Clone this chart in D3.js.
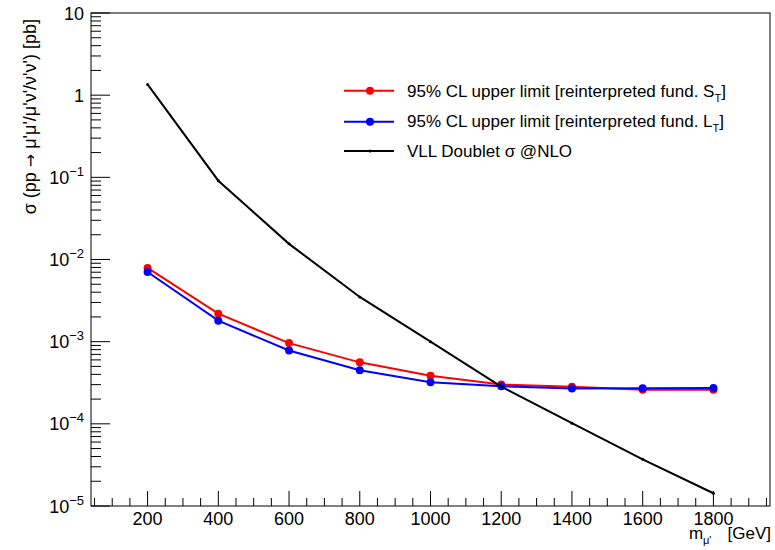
<!DOCTYPE html>
<html>
<head>
<meta charset="utf-8">
<script src="https://cdn.jsdelivr.net/npm/d3@7"></script>
<style>
  html, body { margin: 0; padding: 0; background: #fff; }
  svg { display: block; font-family: "Liberation Sans", Arial, Helvetica, sans-serif; }
</style>
</head>
<body>
<svg id="chart" width="775" height="550"></svg>
<script>
// ---- data ----
const masses = [200, 400, 600, 800, 1000, 1200, 1400, 1600, 1800];
const limitST = [7.9e-3, 2.19e-3, 9.6e-4, 5.6e-4, 3.84e-4, 3.02e-4, 2.82e-4, 2.6e-4, 2.6e-4];
const limitLT = [7.05e-3, 1.8e-3, 7.8e-4, 4.5e-4, 3.2e-4, 2.86e-4, 2.7e-4, 2.71e-4, 2.73e-4];
const xsecNLO = [1.35, 0.091, 0.0155, 3.5e-3, 1.0e-3, 2.84e-4, 1.02e-4, 3.7e-5, 1.43e-5];
const xTickValues = [200, 400, 600, 800, 1000, 1200, 1400, 1600, 1800];
const yTickExponents = [-5, -4, -3, -2, -1, 0, 1];
const legendLabels = [
  {main: "95% CL upper limit [reinterpreted fund. S", sub: "T", tail: "]"},
  {main: "95% CL upper limit [reinterpreted fund. L", sub: "T", tail: "]"},
  {main: "VLL Doublet \u03C3 @NLO", sub: "", tail: ""}
];

const svg = d3.select("#chart");
const L = 91, R = 770, T = 13, B = 506;

const x = d3.scaleLinear().domain([40, 1960]).range([L, R]);
const y = d3.scaleLog().domain([1e-5, 10]).range([B, T]);

// frame
svg.append("rect").attr("x", L).attr("y", T).attr("width", R - L).attr("height", B - T)
  .attr("fill", "none").attr("stroke", "#000").attr("stroke-width", 1);

// x ticks
const xMinor = d3.range(50, 1960, 50).filter(v => !xTickValues.includes(v));
const gx = svg.append("g");
gx.selectAll("line.minor").data(xMinor).join("line")
  .attr("x1", d => x(d)).attr("x2", d => x(d)).attr("y1", B).attr("y2", B - 8)
  .attr("stroke", "#000").attr("stroke-width", 1);
gx.selectAll("line.major").data(xTickValues).join("line")
  .attr("x1", d => x(d)).attr("x2", d => x(d)).attr("y1", B).attr("y2", B - 15)
  .attr("stroke", "#000").attr("stroke-width", 1);
gx.selectAll("text").data(xTickValues).join("text")
  .attr("x", d => x(d)).attr("y", 525).attr("text-anchor", "middle")
  .attr("font-size", 18).text(d => d);

// y ticks
const gy = svg.append("g");
const yMinor = [];
for (let e = -5; e < 1; e++) for (let m = 2; m <= 9; m++) yMinor.push(m * Math.pow(10, e));
gy.selectAll("line.minor").data(yMinor).join("line")
  .attr("x1", L).attr("x2", L + 10).attr("y1", d => y(d)).attr("y2", d => y(d))
  .attr("stroke", "#000").attr("stroke-width", 1);
gy.selectAll("line.major").data(yTickExponents).join("line")
  .attr("x1", L).attr("x2", L + 19).attr("y1", d => y(Math.pow(10, d))).attr("y2", d => y(Math.pow(10, d)))
  .attr("stroke", "#000").attr("stroke-width", 1);
yTickExponents.forEach(e => {
  const yy = y(Math.pow(10, e)) + 6.5;
  const t = gy.append("text").attr("x", 84).attr("y", yy).attr("text-anchor", "end").attr("font-size", 18);
  if (e === 0) t.text("1");
  else if (e === 1) t.text("10");
  else {
    t.append("tspan").text("10");
    t.append("tspan").attr("font-size", 13).attr("dy", -8).text("\u2212" + (-e));
  }
});

// axis titles
const yt = svg.append("text").attr("transform", "translate(36,19) rotate(-90)")
  .attr("text-anchor", "end").attr("font-size", 18);
yt.append("tspan").text("\u03C3 (pp ");
yt.append("tspan").attr("font-family", "DejaVu Sans").attr("font-size", 16).text("\u2192");
yt.append("tspan").text(" \u03BC'\u03BC'/\u03BC'\u03BD'/\u03BD'\u03BD') [pb]");

const xt = svg.append("g").attr("font-size", 17).attr("fill", "#000");
xt.append("text").attr("x", 689).attr("y", 539).text("m");
xt.append("text").attr("x", 703).attr("y", 544).attr("font-size", 11).text("\u03BC'");
xt.append("text").attr("x", 771).attr("y", 539).attr("text-anchor", "end").text("[GeV]");

// series
const line = d3.line().x(d => x(d[0])).y(d => y(d[1]));
function drawSeries(vals, color, r, w) {
  const pts = masses.map((m, i) => [m, vals[i]]);
  svg.append("path").datum(pts).attr("d", line).attr("fill", "none")
    .attr("stroke", color).attr("stroke-width", w);
  svg.append("g").selectAll("circle").data(pts).join("circle")
    .attr("cx", d => x(d[0])).attr("cy", d => y(d[1])).attr("r", r).attr("fill", color);
}
drawSeries(limitST, "#ff0000", 4, 2);
drawSeries(limitLT, "#0000ff", 4, 2);
drawSeries(xsecNLO, "#000000", 1.5, 2);

// legend
const legColors = ["#ff0000", "#0000ff", "#000000"];
const legLineY = [90.7, 121.7, 151];
const legTextY = [96.5, 127.3, 157.3];
legendLabels.forEach((lab, i) => {
  svg.append("line").attr("x1", 344).attr("x2", 394).attr("y1", legLineY[i]).attr("y2", legLineY[i])
    .attr("stroke", legColors[i]).attr("stroke-width", 2);
  svg.append("circle").attr("cx", 370).attr("cy", legLineY[i]).attr("r", i < 2 ? 4 : 1.5).attr("fill", legColors[i]);
  const t = svg.append("text").attr("x", 407).attr("y", legTextY[i]).attr("font-size", 17);
  t.append("tspan").text(lab.main);
  if (lab.sub) {
    t.append("tspan").attr("font-size", 11).attr("dy", 5).text(lab.sub);
    t.append("tspan").attr("dy", -5).text(lab.tail);
  }
});
</script>
</body>
</html>
